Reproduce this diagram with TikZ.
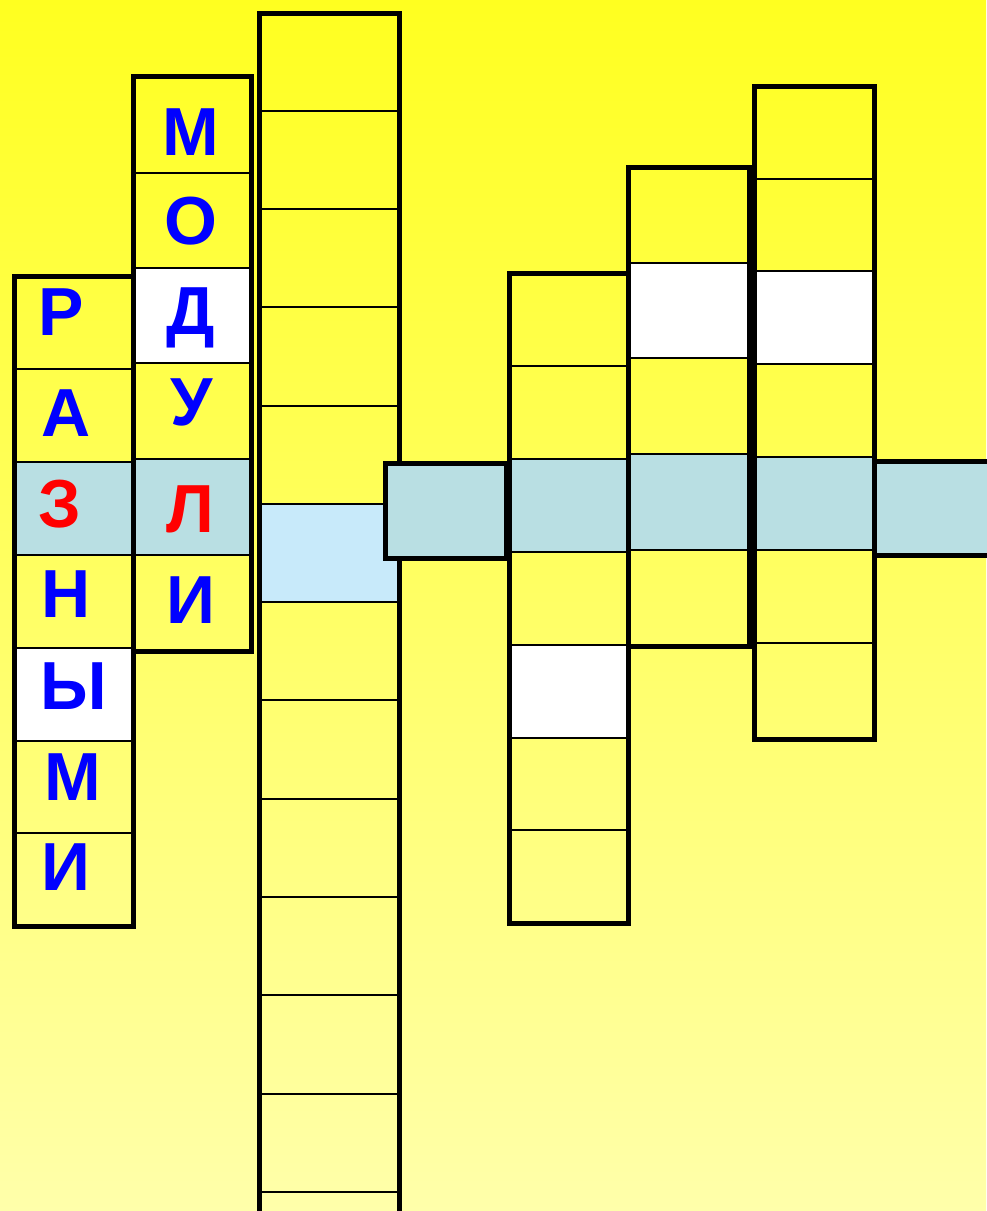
\documentclass[tikz,border=0pt]{standalone}
\usepackage{fontspec}
\setmainfont{Liberation Sans}
\definecolor{cellblue}{RGB}{185,223,227}
\definecolor{paleblue}{RGB}{200,234,250}
\definecolor{letterblue}{RGB}{0,0,255}
\definecolor{bgtop}{RGB}{255,255,32}
\definecolor{bgbot}{RGB}{255,255,170}
\tikzset{
  frame/.style={line width=5pt, line join=miter},
  divider/.style={line width=2.5pt},
  letter/.style={anchor=base, inner sep=0pt, font=\fontsize{68}{68}\selectfont\bfseries, text=letterblue},
  keyletter/.style={letter, text=red},
}
\begin{document}
\begin{tikzpicture}[x=1pt,y=-1pt]
\useasboundingbox (0,0) rectangle (986,1211);
\shade[top color=bgtop, bottom color=bgbot] (0,0) rectangle (986,1211);

% column 1
\fill[cellblue] (14,462) rectangle (133,555);
\fill[white] (14,648) rectangle (133,741);
\foreach \y in {369,462,555,648,741,833} \draw[divider] (14,\y) -- (133,\y);
\draw[frame] (14,276) rectangle (133,926);

% column 2
\fill[white] (133,268) rectangle (251,363);
\fill[cellblue] (133,459) rectangle (251,555);
\foreach \y in {173,268,363,459,555} \draw[divider] (133,\y) -- (251,\y);
\draw[frame] (133,76) rectangle (251,651);

% column 3
\fill[paleblue] (259,504) rectangle (399,602);
\foreach \y in {111,209,307,406,504,602,700,799,897,995,1094,1192} \draw[divider] (259,\y) -- (399,\y);
\draw[frame] (259,1260) -- (259,13) -- (399,13) -- (399,1260);

% middle box
\draw[frame, fill=cellblue] (385,463) rectangle (506,558);

% column 4
\fill[cellblue] (509,459) rectangle (628,552);
\fill[white] (509,645) rectangle (628,738);
\foreach \y in {366,459,552,645,738,830} \draw[divider] (509,\y) -- (628,\y);
\draw[frame] (509,273) rectangle (628,923);

% column 5
\fill[white] (628,263) rectangle (749,358);
\fill[cellblue] (628,454) rectangle (749,550);
\foreach \y in {263,358,454,550} \draw[divider] (628,\y) -- (749,\y);
\draw[frame] (628,167) rectangle (749,646);

% column 6
\fill[white] (754,271) rectangle (874,364);
\fill[cellblue] (754,457) rectangle (874,550);
\foreach \y in {179,271,364,457,550,643} \draw[divider] (754,\y) -- (874,\y);
\draw[frame] (754,86) rectangle (874,739);

% right box
\draw[frame, fill=cellblue] (874,461) rectangle (1000,555);

% letters, column 1
\node[letter] (a1) at (61,335) {Р};
\node[letter] (a2) at (66,436) {А};
\node[keyletter] (a3) at (60,527) {З};
\node[letter] (a4) at (66,617) {Н};
\node[letter] (a5) at (74,709) {Ы};
\node[letter] (a6) at (73,800) {М};
\node[letter] (a7) at (66,890) {И};

% letters, column 2
\node[letter] (b1) at (191,155) {М};
\node[letter] (b2) at (191,244) {О};
\node[letter] (b3) at (191,334) {Д};
\node[letter] (b4) at (192,425) {У};
\node[keyletter] (b5) at (190,532) {Л};
\node[letter] (b6) at (191,623) {И};
\end{tikzpicture}
\end{document}
